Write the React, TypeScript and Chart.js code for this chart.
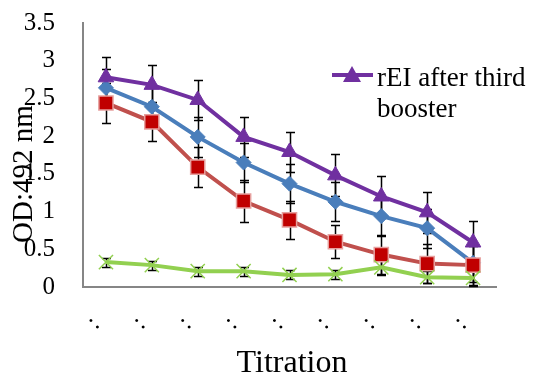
import React, { useEffect, useRef } from 'react';
import { Chart, registerables } from 'chart.js';

Chart.register(...registerables);

// Category labels along the titration axis (rendered as they appear in the source)
const titrationLabels = [':', ':', ':', ':', ':', ':', ':', ':', ':'];

// OD 492 nm readings
const afterThirdBooster = [2.78, 2.68, 2.48, 1.99, 1.79, 1.48, 1.2, 0.99, 0.59];
const afterSecondBooster = [2.64, 2.39, 1.99, 1.65, 1.37, 1.13, 0.94, 0.78, 0.32];
const afterFirstBooster = [2.44, 2.19, 1.59, 1.14, 0.89, 0.6, 0.43, 0.31, 0.29];
const preImmune = [0.33, 0.29, 0.21, 0.21, 0.16, 0.17, 0.26, 0.13, 0.12];

// Error-bar half widths
const errThird = [0.27, 0.26, 0.27, 0.27, 0.27, 0.28, 0.27, 0.27, 0.28];
const errSecond = [0.25, 0.26, 0.26, 0.26, 0.26, 0.26, 0.26, 0.26, 0.26];
const errFirst = [0.27, 0.26, 0.26, 0.28, 0.25, 0.22, 0.26, 0.26, 0.26];
const errPre = [0.06, 0.06, 0.06, 0.06, 0.06, 0.06, 0.1, 0.08, 0.11];

const seriesNames = [
  'rEI after third booster',
  'rEI after second booster',
  'rEI after first booster',
  'Pre-immune',
];

const SERIF = "'Liberation Serif', 'Times New Roman', serif";

const errorBarPlugin = {
  id: 'errorBars',
  beforeDatasetsDraw(chart: any) {
    const ctx = chart.ctx;
    const y = chart.scales.y;
    ctx.save();
    ctx.strokeStyle = '#000';
    ctx.lineWidth = 1.5;
    chart.data.datasets.forEach((ds: any, i: number) => {
      const meta = chart.getDatasetMeta(i);
      const errs: number[] = ds.errors || [];
      meta.data.forEach((pt: any, j: number) => {
        const v = ds.data[j];
        const e = errs[j] || 0;
        const top = Math.round(y.getPixelForValue(v + e)) + 0.5;
        const bot = Math.round(y.getPixelForValue(v - e)) + 0.5;
        const x = Math.round(pt.x) + 0.5;
        ctx.beginPath();
        ctx.moveTo(x, top);
        ctx.lineTo(x, bot);
        ctx.moveTo(x - 4.5, top);
        ctx.lineTo(x + 4.5, top);
        ctx.moveTo(x - 4.5, bot);
        ctx.lineTo(x + 4.5, bot);
        ctx.stroke();
      });
    });
    ctx.restore();
  },
};

const textPlugin = {
  id: 'texts',
  afterDraw(chart: any) {
    const ctx = chart.ctx;
    ctx.save();
    ctx.fillStyle = '#000';
    // Y axis title
    ctx.save();
    ctx.translate(24, 174);
    ctx.rotate(-Math.PI / 2);
    ctx.font = `29px ${SERIF}`;
    ctx.textAlign = 'center';
    ctx.textBaseline = 'middle';
    ctx.fillText('OD:492 nm', 0, 0);
    ctx.restore();
    // X axis title
    ctx.font = `32px ${SERIF}`;
    ctx.textAlign = 'center';
    ctx.textBaseline = 'alphabetic';
    ctx.fillText('Titration', 292, 372);
    // Legend (only the visible entry)
    ctx.strokeStyle = '#7030A0';
    ctx.lineWidth = 4;
    ctx.beginPath();
    ctx.moveTo(332, 75);
    ctx.lineTo(373, 75);
    ctx.stroke();
    ctx.fillStyle = '#7030A0';
    ctx.beginPath();
    ctx.moveTo(352, 66);
    ctx.lineTo(361, 82);
    ctx.lineTo(343, 82);
    ctx.closePath();
    ctx.fill();
    ctx.fillStyle = '#000';
    ctx.font = `27px ${SERIF}`;
    ctx.textAlign = 'left';
    ctx.fillText('rEI after third', 377, 86);
    ctx.fillText('booster', 377, 117);
    ctx.restore();
  },
};

export default function App() {
  const ref = useRef<HTMLCanvasElement>(null);

  useEffect(() => {
    if (!ref.current) return;
    const chart = new Chart(ref.current, {
      type: 'line',
      data: {
        labels: titrationLabels,
        datasets: [
          {
            label: seriesNames[3],
            data: preImmune,
            errors: errPre,
            borderColor: '#92D050',
            borderWidth: 4,
            pointStyle: 'crossRot',
            pointRadius: 10,
            pointBorderColor: '#92D050',
            pointBorderWidth: 1.5,
            pointBackgroundColor: '#92D050',
            tension: 0,
          } as any,
          {
            label: seriesNames[0],
            data: afterThirdBooster,
            errors: errThird,
            borderColor: '#7030A0',
            borderWidth: 4,
            pointStyle: 'triangle',
            pointRadius: 9,
            pointBorderColor: '#7030A0',
            pointBackgroundColor: '#7030A0',
            pointBorderWidth: 1,
            tension: 0,
          },
          {
            label: seriesNames[2],
            data: afterFirstBooster,
            errors: errFirst,
            borderColor: '#C0504D',
            borderWidth: 4,
            pointStyle: 'rect',
            pointRadius: 10,
            pointBorderColor: '#E6A09E',
            pointBackgroundColor: '#C00000',
            pointBorderWidth: 1.5,
            tension: 0,
          },
          {
            label: seriesNames[1],
            data: afterSecondBooster,
            errors: errSecond,
            borderColor: '#4A7EBB',
            borderWidth: 4,
            pointStyle: 'rectRot',
            pointRadius: 7.5,
            pointBorderColor: '#4A7EBB',
            pointBackgroundColor: '#4A7EBB',
            pointBorderWidth: 1,
            tension: 0,
          },
        ],
      },
      options: {
        responsive: false,
        animation: false,
        layout: { padding: { top: 23, right: 40, left: 0, bottom: 0 } },
        plugins: {
          legend: { display: false },
          tooltip: { enabled: false },
        },
        scales: {
          x: {
            offset: true,
            grid: { display: false, drawTicks: false },
            border: { display: true, color: '#868686', width: 2 },
            ticks: {
              color: '#000',
              font: { family: SERIF, size: 25 },
              minRotation: 45,
              maxRotation: 45,
              autoSkip: false,
              padding: 23,
              labelOffset: -10,
            },
            afterFit: (s: any) => {
              s.height = 89;
              s.paddingLeft = 0;
              s.paddingRight = 0;
            },
          },
          y: {
            min: 0,
            max: 3.5,
            grid: { display: false, drawTicks: false },
            border: { display: true, color: '#868686', width: 2 },
            ticks: {
              stepSize: 0.5,
              color: '#000',
              font: { family: SERIF, size: 25 },
              padding: 28,
              callback: (v: any) => String(Number(v)),
            },
            afterFit: (s: any) => {
              s.width = 83;
              s.paddingTop = 0;
              s.paddingBottom = 0;
            },
          },
        },
      },
      plugins: [errorBarPlugin, textPlugin],
    });
    return () => chart.destroy();
  }, []);

  return (
    <div style={{ position: 'absolute', left: 0, top: 0, width: 536, height: 376 }}>
      <canvas ref={ref} width={536} height={376} style={{ display: 'block' }} />
    </div>
  );
}
